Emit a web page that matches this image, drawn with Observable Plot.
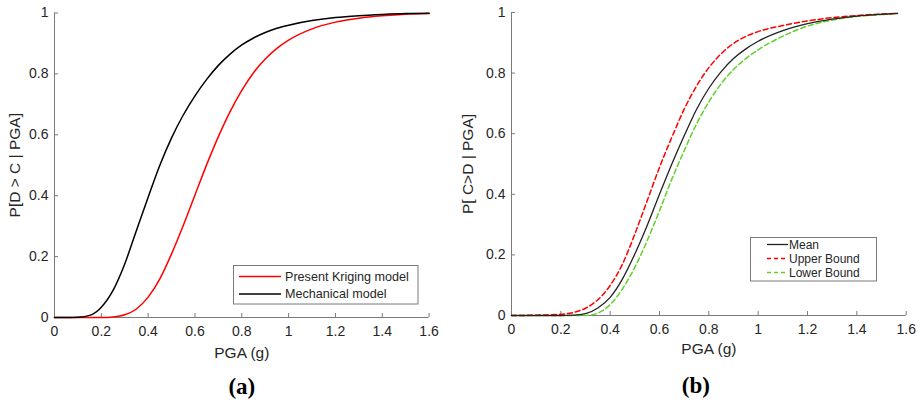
<!DOCTYPE html>
<html>
<head>
<meta charset="utf-8">
<script src="https://cdn.jsdelivr.net/npm/d3@7"></script>
<script src="https://cdn.jsdelivr.net/npm/@observablehq/plot@0.6"></script>
<style>
  html, body { margin: 0; padding: 0; background: #fff; }
  #root { position: relative; width: 924px; height: 403px; overflow: hidden; font-family: "Liberation Sans", Arial, sans-serif; }
  .panel { position: absolute; top: 0; }
  #overlay { position: absolute; left: 0; top: 0; pointer-events: none; }
</style>
</head>
<body>
<div id="root">
  <div id="panelA" class="panel" style="left:0px"></div>
  <div id="panelB" class="panel" style="left:460px"></div>
</div>
<script>
// ---------- Data ----------
const xTicks = [0, 0.2, 0.4, 0.6, 0.8, 1, 1.2, 1.4, 1.6];
const xTickLabels = ["0", "0.2", "0.4", "0.6", "0.8", "1", "1.2", "1.4", "1.6"];
const yTicks = [0, 0.2, 0.4, 0.6, 0.8, 1];
const yTickLabels = ["0", "0.2", "0.4", "0.6", "0.8", "1"];

// Panel (a)
const pgaA = [0, 0.05, 0.1, 0.15, 0.2, 0.25, 0.3, 0.35, 0.4, 0.45, 0.5, 0.55, 0.6, 0.65, 0.7, 0.75, 0.8, 0.85, 0.9, 0.95, 1.0, 1.1, 1.2, 1.3, 1.4, 1.5, 1.6];
const mechanical = [0, 0, 0.001, 0.007, 0.034, 0.089, 0.176, 0.286, 0.395, 0.50, 0.59, 0.665, 0.728, 0.782, 0.828, 0.865, 0.895, 0.918, 0.936, 0.95, 0.96, 0.975, 0.985, 0.991, 0.995, 0.998, 0.999];
const kriging = [0, 0, 0, 0, 0, 0.002, 0.009, 0.028, 0.067, 0.127, 0.209, 0.302, 0.402, 0.502, 0.594, 0.676, 0.746, 0.804, 0.849, 0.884, 0.911, 0.948, 0.97, 0.983, 0.991, 0.996, 0.998];
const seriesA = ["Present Kriging model", "Mechanical model"];

// Panel (b)
const pgaB = [0, 0.1, 0.2, 0.25, 0.3, 0.35, 0.4, 0.45, 0.5, 0.55, 0.6, 0.65, 0.7, 0.75, 0.8, 0.85, 0.9, 0.95, 1.0, 1.1, 1.2, 1.3, 1.4, 1.5, 1.565];
const meanB = [0, 0, 0, 0.001, 0.006, 0.025, 0.06, 0.121, 0.203, 0.297, 0.40, 0.50, 0.593, 0.68, 0.75, 0.805, 0.848, 0.88, 0.905, 0.94, 0.963, 0.978, 0.988, 0.994, 0.997];
const upperB = [0, 0.001, 0.004, 0.01, 0.024, 0.052, 0.099, 0.17, 0.269, 0.379, 0.489, 0.588, 0.681, 0.757, 0.818, 0.864, 0.898, 0.921, 0.937, 0.957, 0.972, 0.983, 0.99, 0.995, 0.997];
const lowerB = [0, 0, 0, 0, 0, 0.008, 0.036, 0.088, 0.159, 0.247, 0.346, 0.45, 0.544, 0.632, 0.705, 0.765, 0.812, 0.848, 0.877, 0.922, 0.955, 0.975, 0.987, 0.993, 0.997];
const seriesB = ["Mean", "Upper Bound", "Lower Bound"];

// ---------- Styles ----------
const axisColor = "#7a7a7a";
const textColor = "#262626";
const RED = "#ff0000", BLACK = "#000000", GREEN = "#5fd12a";
const FONT = "'Liberation Sans', Arial, sans-serif";

const rowsA = [
  ...pgaA.map((x, i) => ({x, y: kriging[i], s: seriesA[0]})),
  ...pgaA.map((x, i) => ({x, y: mechanical[i], s: seriesA[1]}))
];

function axes() {
  return [
    Plot.ruleX([0], {stroke: axisColor, strokeWidth: 1}),
    Plot.ruleY([0], {stroke: axisColor, strokeWidth: 1}),
    Plot.axisX({ticks: xTicks, tickFormat: d => xTickLabels[xTicks.indexOf(d)], tickSize: -4, tickPadding: 13, stroke: axisColor, fill: textColor, label: null, fontSize: 14}),
    Plot.axisY({ticks: yTicks, tickFormat: d => yTickLabels[yTicks.indexOf(d)], tickSize: -4, tickPadding: 10, stroke: axisColor, fill: textColor, label: null, fontSize: 14})
  ];
}

const plotA = Plot.plot({
  width: 460, height: 403,
  marginLeft: 54, marginRight: 31.4, marginTop: 12.5, marginBottom: 86,
  style: {fontFamily: FONT, fontSize: "14px", color: textColor, background: "transparent", overflow: "visible"},
  x: {domain: [0, 1.6]},
  y: {domain: [0, 1]},
  marks: [
    ...axes(),
    Plot.line(rowsA.filter(d => d.s === seriesA[0]), {x: "x", y: "y", stroke: RED, strokeWidth: 1.5, curve: "monotone-x"}),
    Plot.line(rowsA.filter(d => d.s === seriesA[1]), {x: "x", y: "y", stroke: BLACK, strokeWidth: 1.5, curve: "monotone-x"}),
    Plot.text(["PGA (g)"], {frameAnchor: "bottom", dy: 36, text: d => d, fontSize: 15.5, fill: textColor, lineAnchor: "middle"}),
    Plot.text(["(a)"], {frameAnchor: "bottom", dy: 69, text: d => d, fontSize: 23, fontWeight: "bold", fontFamily: "'Liberation Serif', 'Times New Roman', serif", fill: "#000", lineAnchor: "middle"}),
    Plot.text(["P[D > C | PGA]"], {frameAnchor: "left", dx: -39, rotate: -90, text: d => d, fontSize: 15.5, fill: textColor, textAnchor: "middle", lineAnchor: "middle"})
  ]
});
document.getElementById("panelA").appendChild(plotA);

const rowsB = [
  ...pgaB.map((x, i) => ({x, y: meanB[i], s: seriesB[0]})),
  ...pgaB.map((x, i) => ({x, y: upperB[i], s: seriesB[1]})),
  ...pgaB.map((x, i) => ({x, y: lowerB[i], s: seriesB[2]}))
];

const plotB = Plot.plot({
  width: 464, height: 403,
  marginLeft: 51, marginRight: 18.3, marginTop: 12, marginBottom: 88,
  style: {fontFamily: FONT, fontSize: "14px", color: textColor, background: "transparent", overflow: "visible"},
  x: {domain: [0, 1.6]},
  y: {domain: [0, 1]},
  marks: [
    ...axes(),
    Plot.line(rowsB.filter(d => d.s === seriesB[2]), {x: "x", y: "y", stroke: GREEN, strokeWidth: 1.5, strokeDasharray: "5,3", curve: "monotone-x"}),
    Plot.line(rowsB.filter(d => d.s === seriesB[1]), {x: "x", y: "y", stroke: RED, strokeWidth: 1.5, strokeDasharray: "5,3", curve: "monotone-x"}),
    Plot.line(rowsB.filter(d => d.s === seriesB[0]), {x: "x", y: "y", stroke: "#222", strokeWidth: 1.3, curve: "monotone-x"}),
    Plot.text(["PGA (g)"], {frameAnchor: "bottom", dy: 34, text: d => d, fontSize: 15.5, fill: textColor, lineAnchor: "middle"}),
    Plot.text(["(b)"], {frameAnchor: "bottom", dy: 70, dx: -13, text: d => d, fontSize: 23, fontWeight: "bold", fontFamily: "'Liberation Serif', 'Times New Roman', serif", fill: "#000", lineAnchor: "middle"}),
    Plot.text(["P[ C>D | PGA]"], {frameAnchor: "left", dx: -43, rotate: -90, text: d => d, fontSize: 15.5, fill: textColor, textAnchor: "middle", lineAnchor: "middle"})
  ]
});
document.getElementById("panelB").appendChild(plotB);

// ---------- Legends (overlay) ----------
const overlay = d3.select("#root").append("svg")
  .attr("id", "overlay").attr("width", 924).attr("height", 403)
  .style("font-family", FONT);

function legend(box, items, sample, textX, rowYs, fontSize) {
  const g = overlay.append("g");
  g.append("rect").attr("x", box[0]).attr("y", box[1]).attr("width", box[2]).attr("height", box[3])
    .attr("fill", "#fff").attr("stroke", "#7a7a7a").attr("stroke-width", 1);
  items.forEach((it, i) => {
    g.append("line").attr("x1", sample[0]).attr("x2", sample[1]).attr("y1", rowYs[i]).attr("y2", rowYs[i])
      .attr("stroke", it.color).attr("stroke-width", it.width || 1.5)
      .attr("stroke-dasharray", it.dash || null);
    g.append("text").attr("x", textX).attr("y", rowYs[i]).attr("dy", "0.35em")
      .attr("font-size", fontSize).attr("fill", textColor).text(it.label);
  });
}

legend([233.5, 265.5, 184.5, 38.5],
  [{label: seriesA[0], color: RED}, {label: seriesA[1], color: BLACK}],
  [239, 281], 285, [276.5, 294], 12.6);

legend([750.5, 237.5, 126, 43.5],
  [{label: seriesB[0], color: "#222", width: 1.3},
   {label: seriesB[1], color: RED, dash: "4,3"},
   {label: seriesB[2], color: GREEN, dash: "4,3"}],
  [767, 788], 789, [244.5, 258.5, 272.5], 12);
</script>
</body>
</html>
